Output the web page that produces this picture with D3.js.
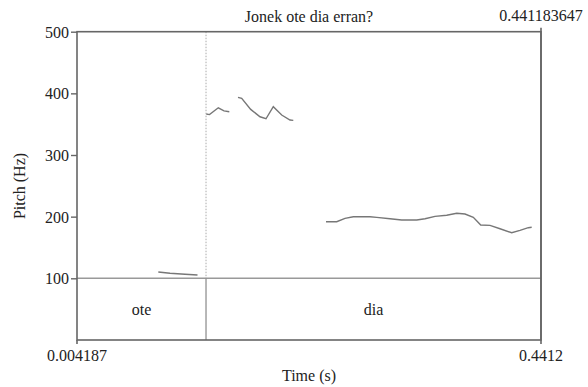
<!DOCTYPE html>
<html><head><meta charset="utf-8">
<script src="https://cdn.jsdelivr.net/npm/d3@7"></script>
<style>body{margin:0;background:#fff}svg{display:block}</style>
</head><body><svg id="c" width="588" height="387"></svg>
<script>
const title = "Jonek ote dia erran?";
const timeStart = 0.004187, timeEnd = 0.4412;
const timeEndLabel = "0.441183647";
const yTicks = [100, 200, 300, 400, 500];
const boundaries = [0.1257];
const intervals = [{label: "ote", start: 0.004187, end: 0.1257}, {label: "dia", start: 0.1257, end: 0.4412}];
const seg1T = [0.08076, 0.09178, 0.10591, 0.11768];
const seg1F = [110.2, 108.2, 106.6, 105.4];
const seg2T = [0.12597, 0.12898, 0.13727, 0.14264, 0.14763];
const seg2F = [366.4, 365.5, 376.6, 371.5, 370.2];
const seg3T = [0.15582, 0.15931, 0.16779, 0.17654, 0.18219, 0.18907, 0.19698, 0.20480, 0.20791];
const seg3F = [393.5, 391.9, 374.0, 362.0, 358.8, 378.3, 364.8, 356.7, 356.2];
const seg4T = [0.23871, 0.24878, 0.25660, 0.26442, 0.28015, 0.28646, 0.29899, 0.31000, 0.32413, 0.33195, 0.34137, 0.35239, 0.36181, 0.36962, 0.37744, 0.38441, 0.39317, 0.40259, 0.41361, 0.42142, 0.42924, 0.43244];
const seg4F = [191.8, 191.8, 197.3, 199.9, 199.9, 198.9, 196.6, 194.5, 194.5, 196.6, 200.5, 202.2, 205.4, 204.3, 198.9, 186.4, 185.9, 180.4, 173.9, 177.8, 182.1, 182.7];

const FONT = "Liberation Serif";
const svg = d3.select("#c");
const L = 77, R = 541, T = 31.7, TB = 278.3, B = 340;
const x = d3.scaleLinear().domain([timeStart, timeEnd]).range([L, R]);
const y = d3.scaleLinear().domain([100, 500]).range([TB, T]);

function label(px, py, s, anchor) {
  return svg.append("text").attr("x", px).attr("y", py).attr("text-anchor", anchor || "middle")
    .attr("font-family", FONT).attr("font-size", 16).attr("fill", "#222").text(s);
}

// tier
svg.append("line").attr("x1", L).attr("x2", R).attr("y1", TB).attr("y2", TB).attr("stroke", "#999").attr("stroke-width", 1.5);
boundaries.forEach(b => {
  svg.append("line").attr("x1", x(b)).attr("x2", x(b)).attr("y1", TB).attr("y2", B).attr("stroke", "#888").attr("stroke-width", 1.2);
  svg.append("line").attr("x1", x(b)).attr("x2", x(b)).attr("y1", T).attr("y2", TB).attr("stroke", "#aaa").attr("stroke-width", 1).attr("stroke-dasharray", "1.5,1.5");
});
intervals.forEach(iv => label((x(iv.start) + x(iv.end)) / 2, 315, iv.label));

// contours
const line = d3.line().x(d => x(d[0])).y(d => y(d[1]));
[[seg1T, seg1F], [seg2T, seg2F], [seg3T, seg3F], [seg4T, seg4F]].forEach(([t, f]) => {
  svg.append("path").attr("d", line(t.map((v, i) => [v, f[i]]))).attr("fill", "none").attr("stroke", "#777").attr("stroke-width", 1.4);
});

// frame
svg.append("rect").attr("x", L).attr("y", T).attr("width", R - L).attr("height", B - T).attr("fill", "none").attr("stroke", "#666").attr("stroke-width", 1.6);
svg.append("line").attr("x1", R).attr("x2", R).attr("y1", T - 4).attr("y2", B + 4).attr("stroke", "#666").attr("stroke-width", 1.6);
svg.append("line").attr("x1", L).attr("x2", L).attr("y1", B).attr("y2", B + 4).attr("stroke", "#666").attr("stroke-width", 1.6);

// y axis
const ya = svg.append("g").attr("transform", `translate(${L},0)`).call(d3.axisLeft(y).tickValues(yTicks).tickSize(6).tickPadding(2));
ya.attr("font-family", FONT).attr("font-size", 16);
ya.select(".domain").remove();
ya.selectAll(".tick line").attr("stroke", "#666").attr("stroke-width", 1.4);
ya.selectAll(".tick text").attr("font-family", FONT).attr("font-size", 16).attr("fill", "#222").attr("dy", "0.35em");

svg.append("text").attr("transform", "translate(25,186) rotate(-90)").attr("text-anchor", "middle")
  .attr("font-family", FONT).attr("font-size", 16).attr("fill", "#222").text("Pitch (Hz)");
label((L + R) / 2, 22, title);
label(R, 21, timeEndLabel);
label(L, 361, String(timeStart));
label(R, 361, String(timeEnd));
label((L + R) / 2, 381, "Time (s)");
</script></body></html>
